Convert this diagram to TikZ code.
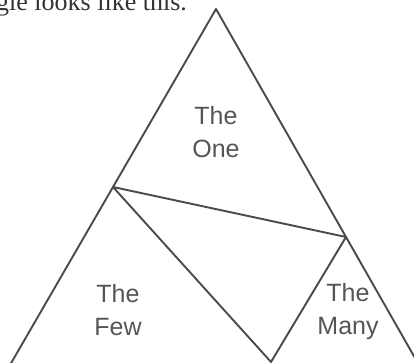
\documentclass[tikz,border=0pt]{standalone}
\usepackage{fontspec}
\usetikzlibrary{calc}
\setmainfont{Liberation Sans}
\newfontfamily\serifcap{Liberation Serif}
\definecolor{edge}{HTML}{4A4A4A}
\definecolor{ink}{HTML}{555555}
\begin{document}
\begin{tikzpicture}[x=1pt,y=-1pt,
  side/.style={draw=edge,line width=1.9pt,line join=round},
  lab/.style={text=ink,align=center,font=\fontsize{25}{33}\selectfont,inner sep=0pt}]
\useasboundingbox (0,0) rectangle (414,363);
\clip (0,0) rectangle (414,363);
\node[anchor=base west,inner sep=0pt,text=black!80,font=\serifcap\fontsize{26}{30}\selectfont] (cap) at (-4,11) {gle looks like this.};
\coordinate (A) at (216,9);
\coordinate (L) at (113,187);
\coordinate (R) at (346,237);
\coordinate (B) at (271,362);
\coordinate (BL) at ($(A)!2.03!(L)$);
\coordinate (BR) at ($(A)!1.62!(R)$);
\draw[side] (BL) -- (A) -- (BR);
\draw[side] (L) -- (R) -- (B) -- cycle;
\node[lab] (one) at (216,132) {The\\One};
\node[lab] (few) at (118,310) {The\\Few};
\node[lab] (many) at (348,312) {The\\Many};
\end{tikzpicture}
\end{document}
